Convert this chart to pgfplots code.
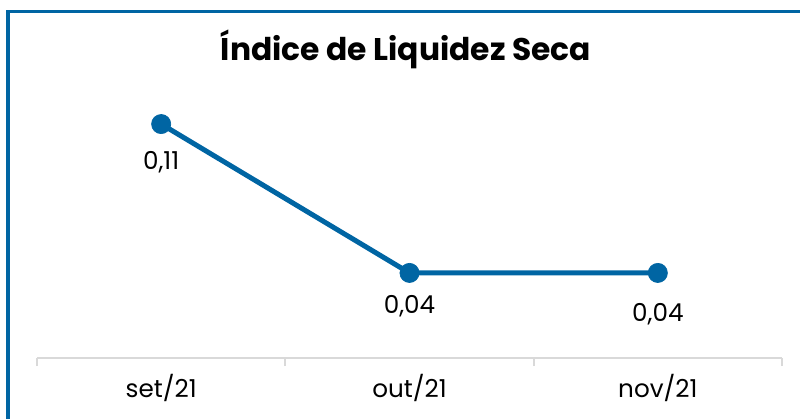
\documentclass[border=0pt]{standalone}
\usepackage{fontspec}
\setmainfont{Poppins}
\usepackage{pgfplots}
\pgfplotsset{compat=1.18}
\definecolor{linblue}{RGB}{0,101,163}
\definecolor{axgray}{RGB}{217,217,217}
\begin{document}
\begin{tikzpicture}[x=0.75pt,y=0.75pt]
  \useasboundingbox (0,0) rectangle (800,418);
  % outer frame (only left and top edges visible)
  \draw[linblue, line width=2.4pt] (8,-20) -- (8,406.5) -- (830,406.5);
  \node[font=\fontsize{23.5}{28}\selectfont\bfseries] at (406,369) {Índice de Liquidez Seca};
  \begin{axis}[
      at={(27.75pt,45pt)}, anchor=south west,
      scale only axis, width=558.75pt, height=191.4pt,
      xmin=-0.5, xmax=2.5, ymin=0, ymax=0.12,
      clip=false,
      axis x line*=bottom, hide y axis,
      axis line style={axgray, line width=1.5pt, -},
      xtick={0,1,2}, xticklabels={set/21, out/21, nov/21},
      major tick length=0pt,
      xticklabel style={font=\fontsize{18.5}{22}\selectfont, anchor=center, yshift=-22.5pt},
      extra x ticks={-0.5,0.5,1.5,2.5}, extra x tick labels={},
      extra x tick style={xtick align=outside, major tick length=6pt,
        tick style={axgray, line width=1.5pt}},
    ]
    \addplot[linblue, line width=3.75pt, mark=*, mark size=7.2pt,
      mark options={fill=linblue, draw=linblue, line width=0.5pt}]
      coordinates {(0,0.11) (1,0.04) (2,0.04)};
    \node[font=\fontsize{18.5}{22}\selectfont, yshift=-28.5pt] at (axis cs:0,0.11) {0,11};
    \node[font=\fontsize{18.5}{22}\selectfont, yshift=-24.75pt] at (axis cs:1,0.04) {0,04};
    \node[font=\fontsize{18.5}{22}\selectfont, yshift=-30.75pt] at (axis cs:2,0.04) {0,04};
  \end{axis}
\end{tikzpicture}
\end{document}
